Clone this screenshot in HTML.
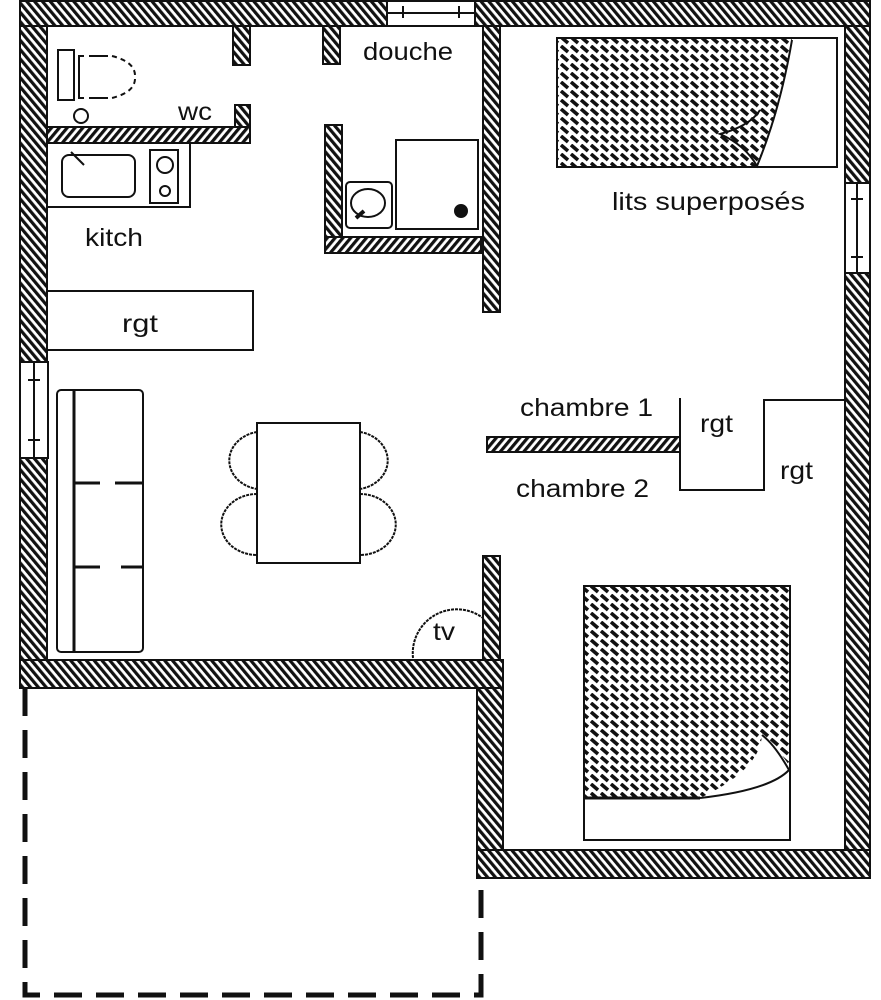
<!DOCTYPE html>
<html><head><meta charset="utf-8"><style>
html,body{margin:0;padding:0;background:#fff}
svg{display:block}
text{font-family:"Liberation Sans",Arial,sans-serif;font-size:25px;fill:#111}
</style></head><body>
<svg width="881" height="1000" viewBox="0 0 881 1000" xmlns="http://www.w3.org/2000/svg">
<defs>
<pattern id="h" width="6" height="6" patternUnits="userSpaceOnUse" patternTransform="rotate(-40)">
<rect width="6" height="6" fill="#fff"/><rect width="3.2" height="6" fill="#111"/>
</pattern>
<pattern id="h2" width="6" height="6" patternUnits="userSpaceOnUse" patternTransform="rotate(40)">
<rect width="6" height="6" fill="#fff"/><rect width="3.2" height="6" fill="#111"/>
</pattern>
<pattern id="b" width="10" height="9" patternUnits="userSpaceOnUse">
<rect width="10" height="9" fill="#fff"/><path d="M1 1 L8 7" stroke="#111" stroke-width="3.6"/>
</pattern>
</defs>
<g stroke="#111" stroke-width="2">
<rect x="20" y="1" width="367" height="25" fill="url(#h)"/>
<rect x="475" y="1" width="395" height="25" fill="url(#h)"/>
<rect x="20" y="26" width="27" height="336" fill="url(#h)"/>
<rect x="20" y="458" width="27" height="202" fill="url(#h)"/>
<rect x="845" y="26" width="25" height="157" fill="url(#h)"/>
<rect x="845" y="273" width="25" height="605" fill="url(#h)"/>
<rect x="20" y="660" width="483" height="28" fill="url(#h)"/>
<rect x="477" y="688" width="26" height="162" fill="url(#h)"/>
<rect x="477" y="850" width="393" height="28" fill="url(#h)"/>
<rect x="387" y="1" width="88" height="25" fill="#fff"/>
<line x1="387" y1="13" x2="475" y2="13"/><line x1="403" y1="6" x2="403" y2="18"/><line x1="459" y1="6" x2="459" y2="18"/>
<rect x="20" y="362" width="28" height="96" fill="#fff"/>
<line x1="34" y1="362" x2="34" y2="458"/><line x1="28" y1="380" x2="40" y2="380"/><line x1="28" y1="440" x2="40" y2="440"/>
<rect x="845" y="183" width="25" height="90" fill="#fff"/>
<line x1="857" y1="183" x2="857" y2="273"/><line x1="851" y1="199" x2="863" y2="199"/><line x1="851" y1="257" x2="863" y2="257"/>
<rect x="483" y="26" width="17" height="286" fill="url(#h)"/>
<rect x="483" y="556" width="17" height="104" fill="url(#h)"/>
<rect x="487" y="437" width="193" height="15" fill="url(#h2)"/>
<rect x="47" y="127" width="203" height="16" fill="url(#h2)"/>
<rect x="233" y="26" width="17" height="39" fill="url(#h)"/>
<rect x="235" y="105" width="15" height="22" fill="url(#h)"/>
<rect x="323" y="26" width="17" height="38" fill="url(#h)"/>
<rect x="325" y="125" width="17" height="112" fill="url(#h)"/>
<rect x="325" y="237" width="156" height="16" fill="url(#h2)"/>
<rect x="58" y="50" width="16" height="50" fill="none"/>
<path d="M84 56 H79 V98 H84 M89 56 H108 M89 98 H108" fill="none"/>
<path d="M112 56 Q136 62 135 77 Q136 92 112 98" fill="none" stroke-dasharray="5 4"/>
<circle cx="81" cy="116" r="7" fill="none"/>
<rect x="47" y="143" width="143" height="64" fill="none"/>
<rect x="62" y="155" width="73" height="42" rx="7" fill="none"/>
<line x1="71" y1="152" x2="84" y2="165"/>
<rect x="150" y="150" width="28" height="53" fill="none"/>
<circle cx="165" cy="165" r="8" fill="none"/><circle cx="165" cy="191" r="5" fill="none"/>
<rect x="396" y="140" width="82" height="89" fill="none"/>
<circle cx="461" cy="211" r="6" fill="#111"/>
<rect x="346" y="182" width="46" height="46" rx="4" fill="none"/>
<ellipse cx="368" cy="203" rx="17" ry="14" fill="none"/>
<line x1="356" y1="218" x2="364" y2="211" stroke-width="4"/>
<rect x="47" y="291" width="206" height="59" fill="none"/>
<rect x="57" y="390" width="86" height="262" rx="4" fill="none"/>
<line x1="74" y1="390" x2="74" y2="652" stroke-width="3"/>
<path d="M74 483 H100 M115 483 H143 M74 567 H100 M121 567 H143" stroke-width="3"/>
<rect x="257" y="423" width="103" height="140" fill="#fff"/>
<path d="M257 432 A34 29 0 0 0 257 489 M257 494 A34 29 0 0 0 257 555 M360 432 A34 29 0 0 1 360 489 M360 494 A34 29 0 0 1 360 555" fill="none" stroke-dasharray="3 1"/>
<path d="M413 658 A44 44 0 0 1 483 618" fill="none" stroke-dasharray="3 1"/>
<path d="M680 398 V490 H764 V400 H845" fill="none"/>
<rect x="557" y="38" width="280" height="129" fill="#fff"/>
<path d="M558 39 H792 Q782 110 757 166 H558 Z" fill="url(#b)" stroke="none"/>
<path d="M792 40 Q780 110 757 166 Q745 145 720 134 Q750 126 760 110" fill="none"/>
<rect x="584" y="586" width="206" height="254" fill="#fff"/>
<path d="M585 587 H789 V765 Q775 745 762 735 Q760 770 700 798 H585 Z" fill="url(#b)" stroke="none"/>
<line x1="584" y1="798" x2="700" y2="798" stroke-width="3"/>
<path d="M700 798 Q770 790 789 770 Q775 745 762 735" fill="none"/>
<path d="M25 688 V995 H481 V878" fill="none" stroke-width="5" stroke-dasharray="28 14"/>
</g>
<text x="363" y="60" textLength="90" lengthAdjust="spacingAndGlyphs">douche</text>
<text x="178" y="120" textLength="34" lengthAdjust="spacingAndGlyphs">wc</text>
<text x="85" y="246" textLength="58" lengthAdjust="spacingAndGlyphs">kitch</text>
<text x="122" y="332" textLength="36" lengthAdjust="spacingAndGlyphs">rgt</text>
<text x="612" y="210" textLength="193" lengthAdjust="spacingAndGlyphs">lits superposés</text>
<text x="520" y="416" textLength="133" lengthAdjust="spacingAndGlyphs">chambre 1</text>
<text x="516" y="497" textLength="133" lengthAdjust="spacingAndGlyphs">chambre 2</text>
<text x="700" y="432" textLength="33" lengthAdjust="spacingAndGlyphs">rgt</text>
<text x="780" y="479" textLength="33" lengthAdjust="spacingAndGlyphs">rgt</text>
<text x="433" y="640" textLength="22" lengthAdjust="spacingAndGlyphs">tv</text>
</svg>
</body></html>
